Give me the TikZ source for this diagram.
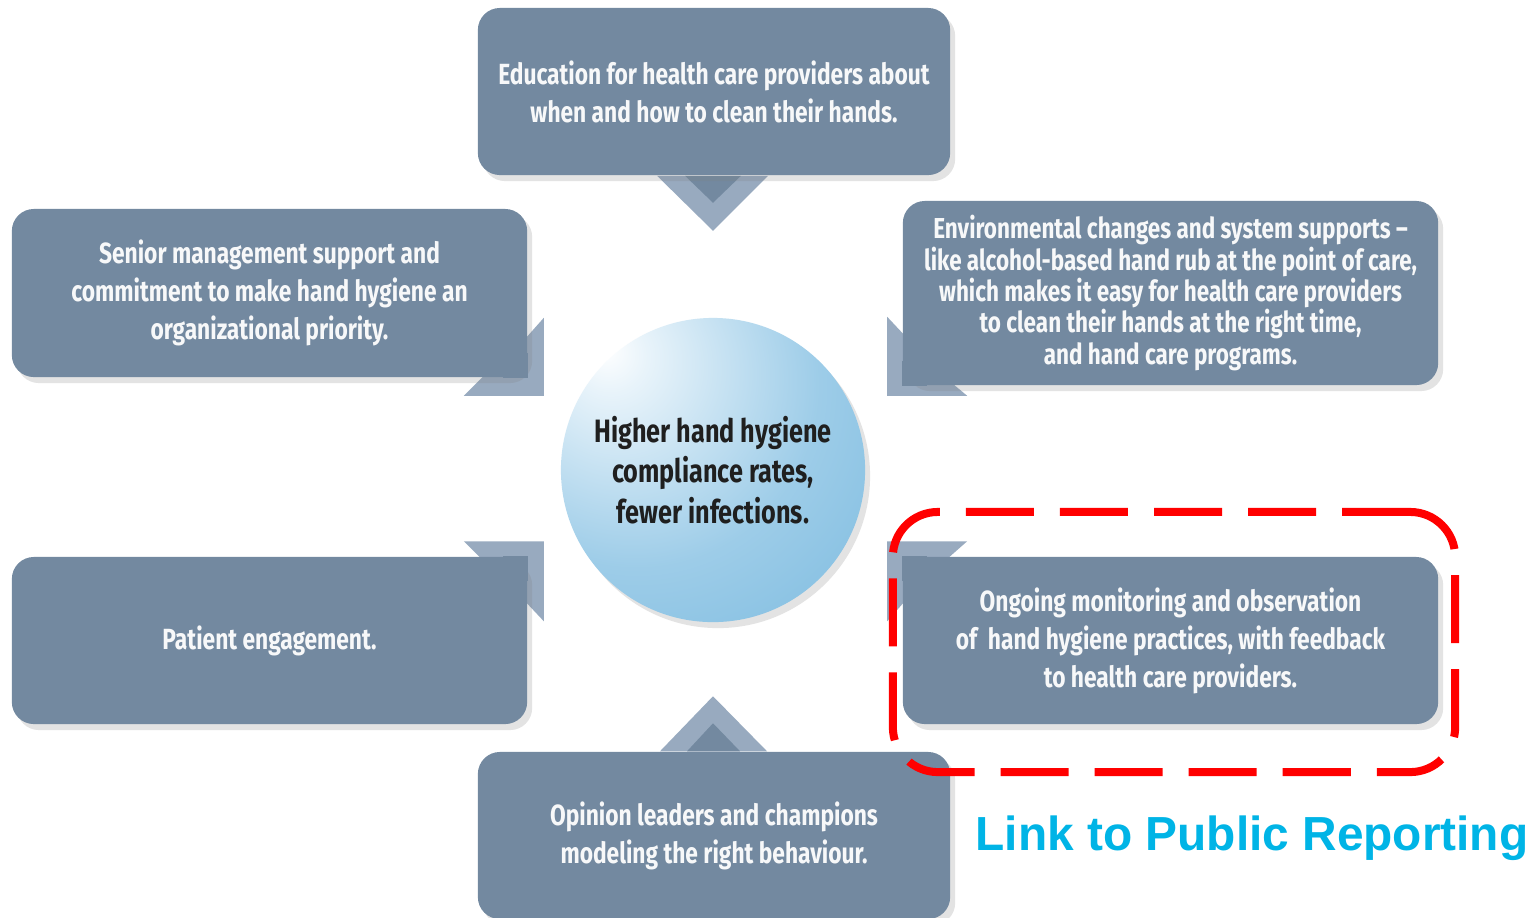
\documentclass[tikz,border=0pt]{standalone}
\usepackage{fontspec}
\newfontfamily\condfont[FakeStretch=0.78]{Fira Sans}
\newfontfamily\linkfont{Liberation Sans}
\usetikzlibrary{shadows}
\usetikzlibrary{calc}

\definecolor{boxblue}{RGB}{115,137,160}
\definecolor{foldblue}{RGB}{152,170,191}
\definecolor{hublight}{RGB}{198,226,243}
\definecolor{hubdark}{RGB}{96,172,216}
\definecolor{linkcyan}{RGB}{0,180,230}
\pgfdeclareradialshading{hubball}{\pgfpoint{-18bp}{20bp}}{color(0bp)=(white); color(6bp)=(white!60!hublight); color(30bp)=(hublight!60!hubdark); color(70bp)=(hubdark); color(100bp)=(hubdark)}

\pgfdeclarelayer{back}
\pgfsetlayers{back,main}

\begin{document}
\begin{tikzpicture}[x=0.01cm,y=0.01cm]
   \tikzset{box/.style={fill=boxblue, text=white!94!boxblue, rounded corners=0.22cm, inner sep=0pt, align=center,
      font=\condfont\bfseries\fontsize{8.3}{10.8}\selectfont,
      drop shadow={opacity=0.22, shadow xshift=0.05cm, shadow yshift=-0.06cm}}}
   \tikzset{fold/.style={fill=foldblue}}
   \useasboundingbox (0,0) rectangle (1531,-917);
   \node[box, minimum width=4.72cm, minimum height=1.67cm] (edu) at (714,-91.5) {Education for health care providers about\\when and how to clean their hands.};
   \node[box, minimum width=5.15cm, minimum height=1.68cm] (mgmt) at (269.5,-293) {Senior management support and\\commitment to make hand hygiene an\\organizational priority.};
   \node[box, minimum width=5.35cm, minimum height=1.84cm, font=\condfont\bfseries\fontsize{8.2}{8.9}\selectfont] (env) at (1170.5,-293) {Environmental changes and system supports –\\like alcohol-based hand rub at the point of care,\\which makes it easy for health care providers\\to clean their hands at the right time,\\and hand care programs.};
   \node[box, minimum width=5.15cm, minimum height=1.67cm] (pat) at (269.5,-640.5) {Patient engagement.};
   \node[box, minimum width=5.35cm, minimum height=1.67cm] (mon) at (1170.5,-640.5) {Ongoing monitoring and observation\\of~ hand hygiene practices, with feedback\\to health care providers.};
   \node[box, minimum width=4.72cm, minimum height=1.67cm] (opin) at (714,-835.5) {Opinion leaders and champions\\modeling the right behaviour.};
   \fill[boxblue] (mgmt.south east) rectangle ++(-25,25);
   \fill[boxblue] (env.south west) rectangle ++(25,25);
   \fill[boxblue] (pat.north east) rectangle ++(-25,-25);
   \fill[boxblue] (mon.north west) rectangle ++(25,-25);
   \node[circle, minimum size=3.04cm, shade, shading=hubball, align=center, text=black!88,
      font=\condfont\bfseries\fontsize{9.2}{11.5}\selectfont,
      drop shadow={opacity=0.22, shadow xshift=0.05cm, shadow yshift=-0.06cm}] (hub) at (713,-470) {Higher hand hygiene\\compliance rates,\\fewer infections.};
   \node[draw=red, line width=0.08cm, dash pattern=on 0.68cm off 0.26cm, rounded corners=0.45cm,
      minimum width=5.62cm, minimum height=2.6cm] (hilite) at (1174,-642) {};
   \node[anchor=base west, inner sep=0pt, text=linkcyan, font=\linkfont\bfseries\fontsize{13.6}{16}\selectfont] (link) at (975,-850) {Link to Public Reporting};
   \begin{pgfonlayer}{back}
      \fill[white] (0,0) rectangle (1531,-917);
      \fill[fold] ($(mgmt.south east)+(0,42)$) -- ++(16,18) -- ++(0,-78) -- ++(-80,0) -- ++(18,18) -- cycle;
      \fill[fold] ($(env.south west)+(0,53)$) -- ++(-15,16) -- ++(0,-79) -- ++(80,0) -- ++(-12,10) -- cycle;
      \fill[fold] ($(pat.north east)+(-49,0)$) -- ++(-15,15) -- ++(80,0) -- ++(0,-80) -- ++(-16,17) -- cycle;
      \fill[fold] ($(mon.north west)+(48,0)$) -- ++(17,15) -- ++(-80,0) -- ++(0,-80) -- ++(15,17) -- cycle;
      \fill[fold] ($(edu.south)+(-57,0)$) -- ++(111,0) -- ($(edu.south)+(-1,-55)$) -- cycle;
      \fill[boxblue] ($(edu.south)+(-29,0)$) -- ++(56,0) -- ($(edu.south)+(-1,-27)$) -- cycle;
      \fill[fold] ($(opin.north)+(-54,0)$) -- ++(107,0) -- ($(opin.north)+(-1,55)$) -- cycle;
      \fill[boxblue] ($(opin.north)+(-27,0)$) -- ++(53,0) -- ($(opin.north)+(-1,28)$) -- cycle;
   \end{pgfonlayer}
\end{tikzpicture}
\end{document}
